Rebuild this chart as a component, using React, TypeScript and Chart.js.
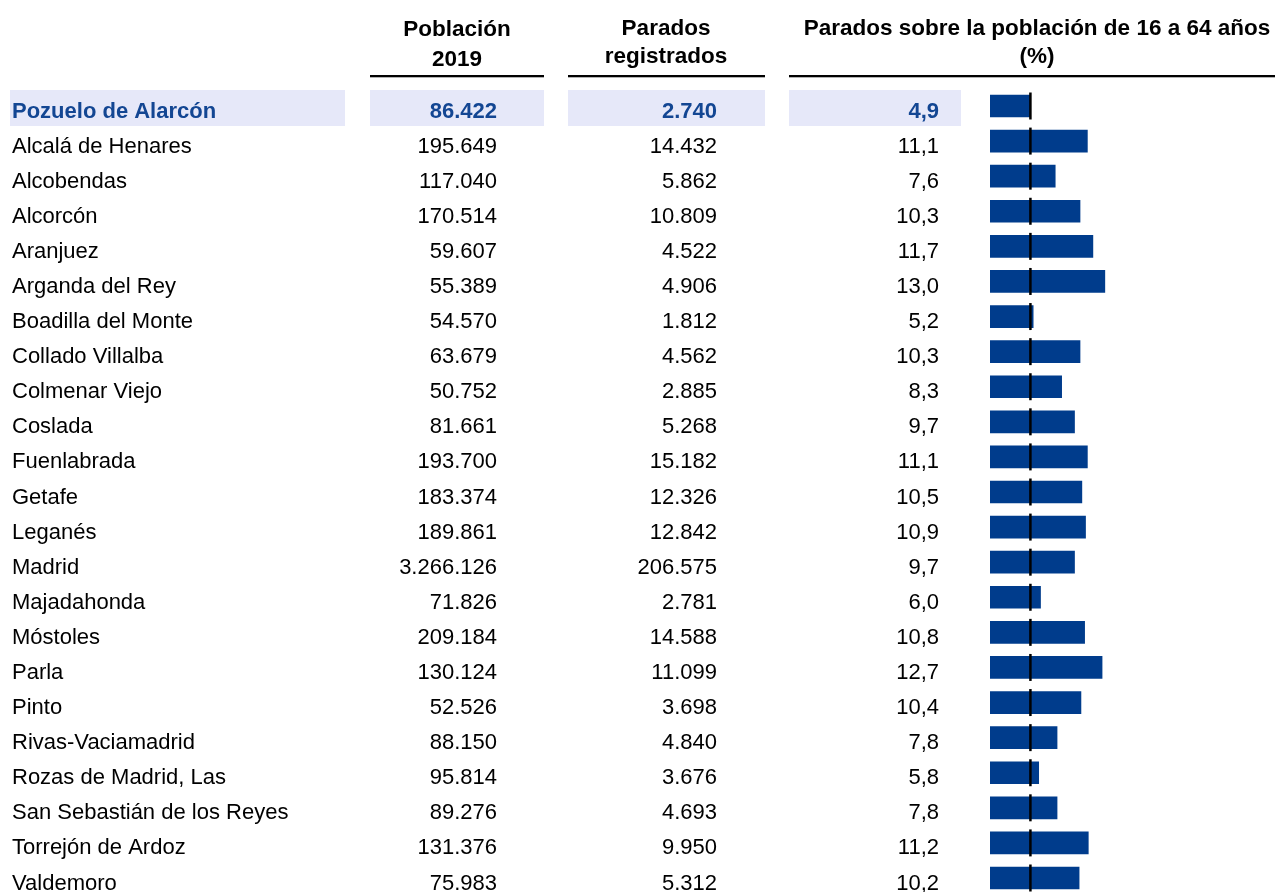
import React, { useEffect, useRef } from "react";
import { Chart, registerables } from "chart.js";

Chart.register(...registerables);

const municipios = [
  "Pozuelo de Alarcón", "Alcalá de Henares", "Alcobendas", "Alcorcón", "Aranjuez",
  "Arganda del Rey", "Boadilla del Monte", "Collado Villalba", "Colmenar Viejo", "Coslada",
  "Fuenlabrada", "Getafe", "Leganés", "Madrid", "Majadahonda", "Móstoles", "Parla", "Pinto",
  "Rivas-Vaciamadrid", "Rozas de Madrid, Las", "San Sebastián de los Reyes", "Torrejón de Ardoz",
  "Valdemoro",
];
const poblacion2019 = [
  86422, 195649, 117040, 170514, 59607, 55389, 54570, 63679, 50752, 81661, 193700, 183374,
  189861, 3266126, 71826, 209184, 130124, 52526, 88150, 95814, 89276, 131376, 75983,
];
const paradosRegistrados = [
  2740, 14432, 5862, 10809, 4522, 4906, 1812, 4562, 2885, 5268, 15182, 12326, 12842, 206575,
  2781, 14588, 11099, 3698, 4840, 3676, 4693, 9950, 5312,
];
const tasaParo = [
  4.9, 11.1, 7.6, 10.3, 11.7, 13.0, 5.2, 10.3, 8.3, 9.7, 11.1, 10.5, 10.9, 9.7, 6.0, 10.8, 12.7,
  10.4, 7.8, 5.8, 7.8, 11.2, 10.2,
];
const headerPoblacion = ["Población", "2019"];
const headerParados = ["Parados", "registrados"];
const headerTasa = ["Parados sobre la población de 16 a 64 años", "(%)"];

const FONT = '"Liberation Sans", Arial, sans-serif';
const BLUE_TEXT = "#134693";
const BAND = "#E6E8F9";
const BAR = "#003C8C";

const fmtInt = (n: number) => String(n).replace(/\B(?=(\d{3})+(?!\d))/g, ".");
const fmtDec = (n: number) => n.toFixed(1).replace(".", ",");

function txt(ctx: CanvasRenderingContext2D, s: string, x: number, y: number, align: CanvasTextAlign, font: string, color: string) {
  ctx.save();
  ctx.font = font;
  ctx.fillStyle = color;
  ctx.textAlign = align;
  ctx.textBaseline = "alphabetic";
  ctx.fillText(s, x, y);
  ctx.restore();
}

const tablePlugin = {
  id: "tablePlugin",
  beforeDatasetsDraw(chart: any) {
    const ctx: CanvasRenderingContext2D = chart.ctx;
    const yS = chart.scales.y;
    const hFont = `bold 22.5px ${FONT}`;
    txt(ctx, headerPoblacion[0], 457, 36, "center", hFont, "#000");
    txt(ctx, headerPoblacion[1], 457, 66, "center", hFont, "#000");
    txt(ctx, headerParados[0], 666, 35, "center", hFont, "#000");
    txt(ctx, headerParados[1], 666, 63, "center", hFont, "#000");
    txt(ctx, headerTasa[0], 1037, 35, "center", hFont, "#000");
    txt(ctx, headerTasa[1], 1037, 63, "center", hFont, "#000");
    ctx.fillStyle = "#000";
    ctx.fillRect(370, 75, 174, 2.3);
    ctx.fillRect(568, 75, 197, 2.3);
    ctx.fillRect(789, 75, 486, 2.3);

    municipios.forEach((name, i) => {
      const yc = yS.getPixelForValue(i);
      const hi = i === 0;
      if (hi) {
        ctx.fillStyle = BAND;
        ctx.fillRect(10, yc - 16, 335, 36);
        ctx.fillRect(370, yc - 16, 174, 36);
        ctx.fillRect(568, yc - 16, 197, 36);
        ctx.fillRect(789, yc - 16, 172, 36);
      }
      const font = hi ? `bold 22px ${FONT}` : `22px ${FONT}`;
      const color = hi ? BLUE_TEXT : "#000";
      const base = yc + 11.5;
      txt(ctx, name, 12, base, "left", font, color);
      txt(ctx, fmtInt(poblacion2019[i]), 497, base, "right", font, color);
      txt(ctx, fmtInt(paradosRegistrados[i]), 717, base, "right", font, color);
      txt(ctx, fmtDec(tasaParo[i]), 939, base, "right", font, color);
    });
  },
  afterDatasetsDraw(chart: any) {
    const ctx: CanvasRenderingContext2D = chart.ctx;
    const xS = chart.scales.x;
    const yS = chart.scales.y;
    const xr = xS.getPixelForValue(tasaParo[0]);
    ctx.save();
    ctx.strokeStyle = "#000";
    ctx.lineWidth = 2.5;
    municipios.forEach((_, i) => {
      const yc = yS.getPixelForValue(i);
      ctx.beginPath();
      ctx.moveTo(xr, yc - 13.5);
      ctx.lineTo(xr, yc + 13.5);
      ctx.stroke();
    });
    ctx.restore();
  },
};

export default function App() {
  const ref = useRef<HTMLCanvasElement | null>(null);
  useEffect(() => {
    if (!ref.current) return;
    const chart = new Chart(ref.current, {
      type: "bar",
      data: {
        labels: municipios,
        datasets: [
          {
            data: tasaParo,
            backgroundColor: BAR,
            borderWidth: 0,
            barThickness: 22,
            clip: { left: 0, top: 15, right: 0, bottom: 15 },
          },
        ],
      },
      options: {
        indexAxis: "y",
        responsive: false,
        animation: false,
        layout: { padding: { left: 990, right: 14, top: 106, bottom: 14 } },
        scales: {
          x: { type: "linear", min: 0.5, max: 30, display: false },
          y: { type: "category", offset: false, display: false },
        },
        plugins: { legend: { display: false }, tooltip: { enabled: false } },
      },
      plugins: [tablePlugin],
    } as any);
    return () => chart.destroy();
  }, []);
  return (
    <div style={{ position: "fixed", left: 0, top: 0, width: 1275, height: 892, background: "#fff" }}>
      <canvas ref={ref} width={1275} height={892} style={{ display: "block" }} />
    </div>
  );
}
